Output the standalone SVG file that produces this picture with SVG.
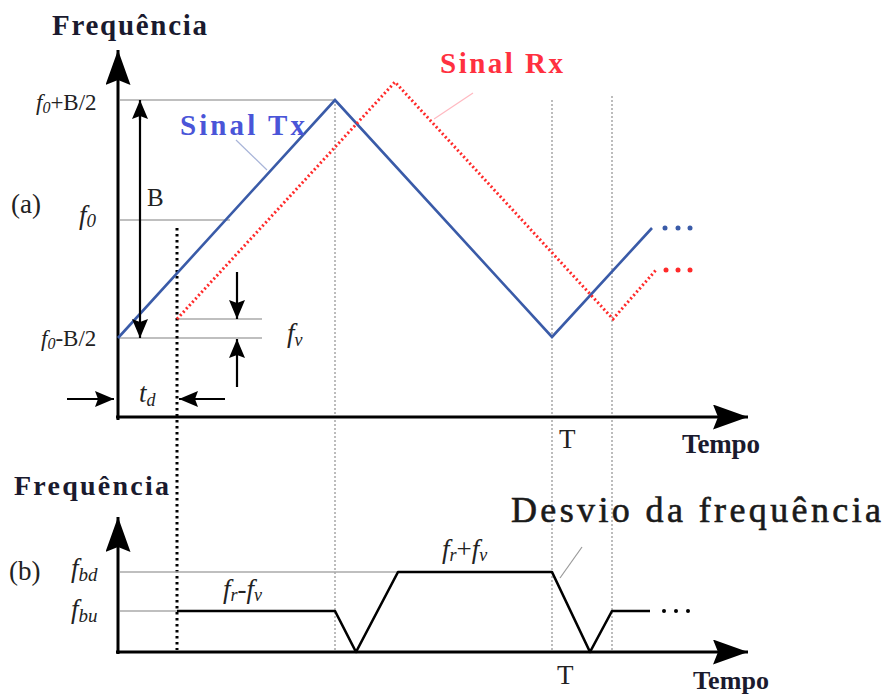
<svg xmlns="http://www.w3.org/2000/svg" width="888" height="697" viewBox="0 0 888 697">
<style>
.axis{stroke:#000;stroke-width:3;fill:none}
.guide{stroke:#aaa;stroke-width:1.5;fill:none}
.vdot{stroke:#999;stroke-width:1.3;stroke-dasharray:2 2;fill:none}
.blk{stroke:#000;stroke-width:2.2;fill:none}
.tx{stroke:#3a5ba8;stroke-width:2.6;fill:none}
.rx{stroke:#ff2a2a;stroke-width:3;stroke-dasharray:2 2.5;fill:none}
.sig{stroke:#000;stroke-width:2.6;fill:none;stroke-linejoin:round}
.lbl{font-family:"Liberation Serif",serif;font-weight:bold;fill:#1a1a2e}
.math{font-family:"Liberation Serif",serif;fill:#222}
.it{font-style:italic}
</style>
<defs>
<marker id="big" markerUnits="userSpaceOnUse" markerWidth="36" markerHeight="26" refX="35" refY="12.5" orient="auto"><path d="M0,0 L35,12.5 L0,25 L5,12.5 z" fill="#000"/></marker>
<marker id="sm" markerUnits="userSpaceOnUse" markerWidth="20" markerHeight="17" refX="19" refY="8" orient="auto"><path d="M0,0 L19,8 L0,16 L3,8 z" fill="#000"/></marker>
</defs>

<g id="chart-a">
  <g id="guides-a">
    <line class="guide" x1="120" y1="100" x2="335" y2="100"/>
    <line class="guide" x1="120" y1="220" x2="230" y2="220"/>
    <line class="guide" x1="120" y1="338" x2="262" y2="338"/>
    <line class="guide" x1="178" y1="319" x2="262" y2="319"/>
  </g>
  <g id="verticals">
    <line class="vdot" x1="335" y1="100" x2="335" y2="652"/>
    <line class="vdot" x1="552" y1="100" x2="552" y2="652"/>
    <line class="vdot" x1="612" y1="96" x2="612" y2="652"/>
    <line x1="177" y1="228" x2="177" y2="650" stroke="#000" stroke-width="3" stroke-dasharray="2.5 3.5"/>
  </g>
  <g id="axes-a">
    <line class="axis" x1="118" y1="420" x2="118" y2="50" marker-end="url(#big)"/>
    <line class="axis" x1="116" y1="417" x2="748" y2="417" marker-end="url(#big)"/>
  </g>
  <g id="signal-tx">
    <polyline class="tx" points="118,338 335,100 552,337 652,228"/>
    <circle cx="665" cy="228" r="2.5" fill="#3a5ba8"/>
    <circle cx="678" cy="228" r="2.5" fill="#3a5ba8"/>
    <circle cx="690" cy="228" r="2.5" fill="#3a5ba8"/>
    <line x1="236" y1="140" x2="267" y2="170" stroke="#a8b4d8" stroke-width="1.2"/>
    <text x="180" y="135" font-family="Liberation Serif,serif" font-weight="bold" font-size="29" fill="#4a55d8" textLength="125" lengthAdjust="spacing">Sinal Tx</text>
  </g>
  <g id="signal-rx">
    <polyline class="rx" points="177,319 395,82 613,319 656,270"/>
    <circle cx="666" cy="270" r="2.5" fill="#ff2a2a"/>
    <circle cx="678" cy="270" r="2.5" fill="#ff2a2a"/>
    <circle cx="690" cy="270" r="2.5" fill="#ff2a2a"/>
    <line x1="473" y1="93" x2="434" y2="119" stroke="#ffb8c0" stroke-width="1.2"/>
    <text x="440" y="73" font-family="Liberation Serif,serif" font-weight="bold" font-size="29" fill="#ff3040" textLength="123" lengthAdjust="spacing">Sinal Rx</text>
  </g>
  <g id="dims-a">
    <line class="blk" x1="140" y1="120" x2="140" y2="100" marker-end="url(#sm)"/>
    <line class="blk" x1="140" y1="110" x2="140" y2="338" marker-end="url(#sm)"/>
    <line class="blk" x1="237" y1="272" x2="237" y2="319" marker-end="url(#sm)"/>
    <line class="blk" x1="237" y1="387" x2="237" y2="339" marker-end="url(#sm)"/>
    <line class="blk" x1="67" y1="399" x2="114" y2="399" marker-end="url(#sm)"/>
    <line class="blk" x1="225" y1="399" x2="179" y2="399" marker-end="url(#sm)"/>
  </g>
  <g id="labels-a">
    <text class="lbl" x="52" y="35" font-size="29" textLength="155" lengthAdjust="spacing">Frequência</text>
    <text class="math" x="11" y="213" font-size="27">(a)</text>
    <text class="math" x="147" y="206" font-size="25">B</text>
    <text class="math" x="36" y="110" font-size="23"><tspan class="it">f</tspan><tspan class="it" font-size="16" dy="3">0</tspan><tspan dy="-3">+B/2</tspan></text>
    <text class="math" x="79" y="224" font-size="27"><tspan class="it">f</tspan><tspan class="it" font-size="19" dy="3">0</tspan></text>
    <text class="math" x="41" y="346" font-size="23"><tspan class="it">f</tspan><tspan class="it" font-size="16" dy="3">0</tspan><tspan dy="-3">-B/2</tspan></text>
    <text class="math" x="287" y="342" font-size="27"><tspan class="it">f</tspan><tspan class="it" font-size="18" dy="4">v</tspan></text>
    <text class="math" x="139" y="402" font-size="27"><tspan class="it">t</tspan><tspan class="it" font-size="18" dy="4">d</tspan></text>
    <text class="math" x="559" y="448" font-size="27">T</text>
    <text class="lbl" x="682" y="453" font-size="27" textLength="78" lengthAdjust="spacing">Tempo</text>
  </g>
</g>

<g id="chart-b">
  <g id="guides-b">
    <line class="guide" x1="120" y1="572" x2="398" y2="572"/>
    <line class="guide" x1="120" y1="611" x2="177" y2="611"/>
  </g>
  <g id="axes-b">
    <line class="axis" x1="118" y1="654" x2="118" y2="517" marker-end="url(#big)"/>
    <line class="axis" x1="116" y1="652" x2="748" y2="652" marker-end="url(#big)"/>
  </g>
  <g id="deviation">
    <polyline class="sig" points="177,611 335,611 356,652 398,572 552,572 590,652 612,611 650,611"/>
    <circle cx="664" cy="611" r="2" fill="#000"/>
    <circle cx="676" cy="611" r="2" fill="#000"/>
    <circle cx="688" cy="611" r="2" fill="#000"/>
    <line x1="582" y1="547" x2="560" y2="578" stroke="#999" stroke-width="1.2"/>
    <text x="511" y="522" font-family="Liberation Serif,serif" font-size="36" fill="#1a1a1a" stroke="#1a1a1a" stroke-width="0.6" textLength="370" lengthAdjust="spacing">Desvio da frequência</text>
  </g>
  <g id="labels-b">
    <text class="lbl" x="14" y="495" font-size="28" textLength="155" lengthAdjust="spacing">Frequência</text>
    <text class="math" x="9" y="580" font-size="27">(b)</text>
    <text class="math" x="71" y="577" font-size="27"><tspan class="it">f</tspan><tspan class="it" font-size="19" dy="4">bd</tspan></text>
    <text class="math" x="71" y="618" font-size="27"><tspan class="it">f</tspan><tspan class="it" font-size="19" dy="4">bu</tspan></text>
    <text class="math" x="223" y="598" font-size="27"><tspan class="it">f</tspan><tspan class="it" font-size="18" dy="3">r</tspan><tspan dy="-3">-</tspan><tspan class="it">f</tspan><tspan class="it" font-size="18" dy="3">v</tspan></text>
    <text class="math" x="442" y="558" font-size="27"><tspan class="it">f</tspan><tspan class="it" font-size="18" dy="3">r</tspan><tspan dy="-3">+</tspan><tspan class="it">f</tspan><tspan class="it" font-size="18" dy="3">v</tspan></text>
    <text class="math" x="557" y="684" font-size="27">T</text>
    <text class="lbl" x="693" y="689" font-size="26" textLength="76" lengthAdjust="spacing">Tempo</text>
  </g>
</g>
</svg>
